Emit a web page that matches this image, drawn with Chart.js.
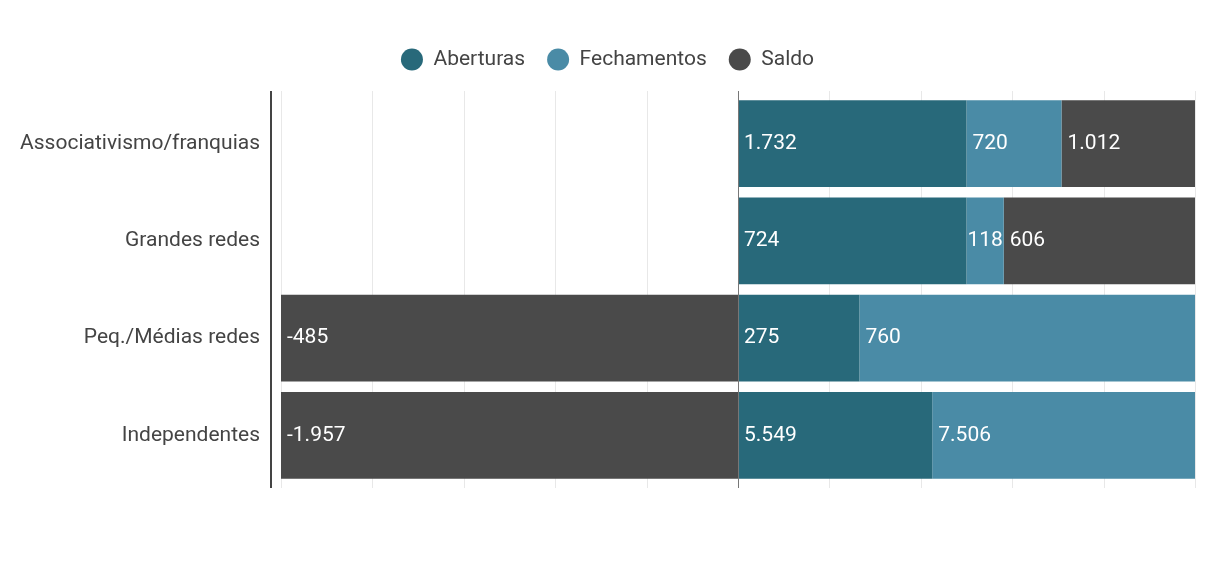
<!DOCTYPE html>
<html lang="pt">
<head>
<meta charset="UTF-8">
<title>Aberturas e fechamentos</title>
<script src="https://cdn.jsdelivr.net/npm/chart.js"></script>
<style>
  html, body { margin: 0; padding: 0; background: #fff; }
  #wrap { width: 1218px; height: 564px; }
</style>
</head>
<body>
<div id="wrap"><canvas id="chart"></canvas></div>
<script>
const categories = ['Associativismo/franquias', 'Grandes redes', 'Peq./Médias redes', 'Independentes'];
const aberturas = [1732, 724, 275, 5549];
const fechamentos = [720, 118, 760, 7506];
const saldo = [1012, 606, -485, -1957];
const gridTicks = [-100, -80, -60, -40, -20, 0, 20, 40, 60, 80, 100];

const series = [
  { label: 'Aberturas', values: aberturas, color: '#28697a' },
  { label: 'Fechamentos', values: fechamentos, color: '#4a8ba6' },
  { label: 'Saldo', values: saldo, color: '#4a4a4a' }
];

// share of each value within its side (positive or negative) of the row
function share(v, i) {
  let pos = 0, neg = 0;
  series.forEach(s => {
    const x = s.values[i];
    if (x >= 0) pos += x; else neg -= x;
  });
  return v >= 0 ? v / pos * 100 : v / neg * 100;
}

function fmt(v) {
  return v.toLocaleString('pt-BR');
}

const FONT = 'Roboto, "Noto Sans", Arial, sans-serif';

// extra room under the legend
const legendGap = {
  id: 'legendGap',
  beforeInit(chart) {
    const fit = chart.legend.fit;
    chart.legend.fit = function () {
      fit.call(this);
      this.height += 15;
    };
  }
};

const decorations = {
  id: 'decorations',
  beforeDatasetsDraw(chart) {
    const ctx = chart.ctx;
    const area = chart.chartArea;
    const x = chart.scales.x;
    ctx.save();
    ctx.strokeStyle = '#e8e8e8';
    ctx.lineWidth = 1;
    gridTicks.forEach(t => {
      if (t === 0) return;
      const px = Math.round(x.getPixelForValue(t)) + 0.5;
      ctx.beginPath();
      ctx.moveTo(px, area.top - 4);
      ctx.lineTo(px, area.bottom + 4);
      ctx.stroke();
    });
    // y axis line
    ctx.strokeStyle = '#444';
    ctx.lineWidth = 2;
    ctx.beginPath();
    ctx.moveTo(area.left - 10, area.top - 4);
    ctx.lineTo(area.left - 10, area.bottom + 4);
    ctx.stroke();
    ctx.restore();
  },
  afterDatasetsDraw(chart) {
    const ctx = chart.ctx;
    const area = chart.chartArea;
    const x = chart.scales.x;
    ctx.save();
    // zero line
    ctx.strokeStyle = '#777';
    ctx.lineWidth = 1;
    const zx = Math.round(x.getPixelForValue(0)) + 0.5;
    ctx.beginPath();
    ctx.moveTo(zx, area.top - 4);
    ctx.lineTo(zx, area.bottom + 4);
    ctx.stroke();
    // value labels
    ctx.fillStyle = '#fff';
    ctx.font = '21px ' + FONT;
    ctx.textBaseline = 'middle';
    chart.data.datasets.forEach((ds, di) => {
      chart.getDatasetMeta(di).data.forEach((bar, i) => {
        const left = Math.min(bar.x, bar.base);
        const w = Math.abs(bar.x - bar.base);
        const txt = fmt(ds.raw[i]);
        if (ctx.measureText(txt).width + 12 > w) {
          ctx.textAlign = 'center';
          ctx.fillText(txt, left + w / 2, bar.y);
        } else {
          ctx.textAlign = 'left';
          ctx.fillText(txt, left + 6, bar.y);
        }
      });
    });
    ctx.restore();
  }
};

new Chart(document.getElementById('chart'), {
  type: 'bar',
  data: {
    labels: categories,
    datasets: series.map(s => ({
      label: s.label,
      raw: s.values,
      data: s.values.map((v, i) => share(v, i)),
      backgroundColor: s.color,
      borderWidth: 0,
      barPercentage: 0.894,
      categoryPercentage: 1
    }))
  },
  options: {
    indexAxis: 'y',
    responsive: true,
    maintainAspectRatio: false,
    animation: false,
    layout: { padding: { left: 20, right: 23, top: 27, bottom: 80 } },
    scales: {
      x: {
        display: false,
        stacked: true,
        min: -100,
        max: 100
      },
      y: {
        stacked: true,
        grid: { display: false, drawTicks: false },
        border: { display: false },
        ticks: {
          padding: 21,
          color: '#444',
          font: { family: FONT, size: 21 }
        },
        afterFit(scale) { scale.width = 261; }
      }
    },
    plugins: {
      legend: {
        position: 'top',
        labels: {
          usePointStyle: true,
          pointStyle: 'circle',
          boxHeight: 15.5,
          pointStyleWidth: 22,
          padding: 22,
          color: '#444',
          font: { family: FONT, size: 21 }
        }
      },
      tooltip: { enabled: false }
    }
  },
  plugins: [legendGap, decorations]
});
</script>
</body>
</html>
